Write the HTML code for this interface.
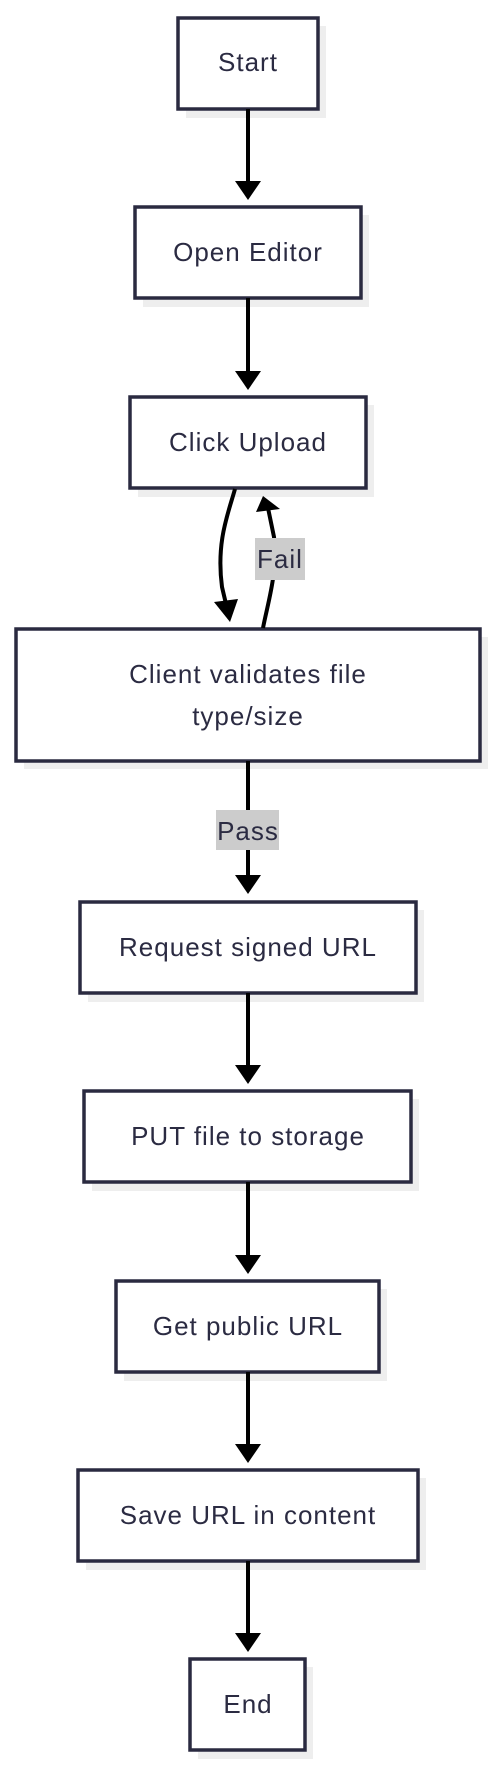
<!DOCTYPE html>
<html><head><style>
body{margin:0;background:#fff;width:496px;height:1768px;overflow:hidden}
svg text{font-family:"Liberation Sans",sans-serif;font-size:26px;letter-spacing:1px;fill:#2b2b42}
</style></head><body>
<svg width="496" height="1768" viewBox="0 0 496 1768" xmlns="http://www.w3.org/2000/svg">
<g transform="translate(0,2)">
<g fill="#eeeeee">
<rect x="186" y="24" width="140" height="92"/>
<rect x="143" y="213" width="226" height="92"/>
<rect x="138" y="403" width="236" height="92"/>
<rect x="24" y="635" width="464" height="132"/>
<rect x="88" y="908" width="336" height="92"/>
<rect x="92" y="1097" width="327" height="92"/>
<rect x="124" y="1287" width="263" height="92"/>
<rect x="86" y="1476" width="340" height="92"/>
<rect x="198" y="1665" width="115" height="92"/>
</g>
<g fill="#fff" stroke="#2a2a40" stroke-width="3.5">
<rect x="178" y="16" width="140" height="91"/>
<rect x="135" y="205" width="226" height="91"/>
<rect x="130" y="395" width="236" height="91"/>
<rect x="16" y="627" width="464" height="132"/>
<rect x="80" y="900" width="336" height="91"/>
<rect x="84" y="1089" width="327" height="91"/>
<rect x="116" y="1279" width="263" height="91"/>
<rect x="78" y="1468" width="340" height="91"/>
<rect x="190" y="1657" width="115" height="91"/>
</g>
<g stroke="#000" stroke-width="4" fill="none">
<line x1="248" y1="107" x2="248" y2="180"/>
<line x1="248" y1="296" x2="248" y2="370"/>
<line x1="248" y1="759" x2="248" y2="874"/>
<line x1="248" y1="991" x2="248" y2="1064"/>
<line x1="248" y1="1180" x2="248" y2="1254"/>
<line x1="248" y1="1370" x2="248" y2="1443"/>
<line x1="248" y1="1559" x2="248" y2="1632"/>
<path d="M235 487 C228 512 216 540 222 585 L226 602"/>
<path d="M263 626 C268 600 278 570 274 535 L268 506"/>
</g>
<g fill="#000">
<polygon points="235,179 261,179 248,198"/>
<polygon points="235,369 261,369 248,388"/>
<polygon points="235,873 261,873 248,892"/>
<polygon points="235,1063 261,1063 248,1082"/>
<polygon points="235,1253 261,1253 248,1272"/>
<polygon points="235,1442 261,1442 248,1461"/>
<polygon points="235,1631 261,1631 248,1650"/>
<polygon points="214,600 238,597 230,620"/>
<polygon points="256,510 280,507 263,494"/>
</g>
<rect x="255" y="536" width="50" height="42" fill="#cccccc"/>
<rect x="216" y="808" width="63" height="40" fill="#cccccc"/>
<g text-anchor="middle">
<text x="248" y="69">Start</text>
<text x="248" y="259">Open Editor</text>
<text x="248" y="449">Click Upload</text>
<text x="248" y="681">Client validates file</text>
<text x="248" y="723">type/size</text>
<text x="280" y="566">Fail</text>
<text x="248" y="838">Pass</text>
<text x="248" y="954">Request signed URL</text>
<text x="248" y="1143">PUT file to storage</text>
<text x="248" y="1333">Get public URL</text>
<text x="248" y="1522">Save URL in content</text>
<text x="248" y="1711">End</text>
</g>
</g>
</svg>
</body></html>
